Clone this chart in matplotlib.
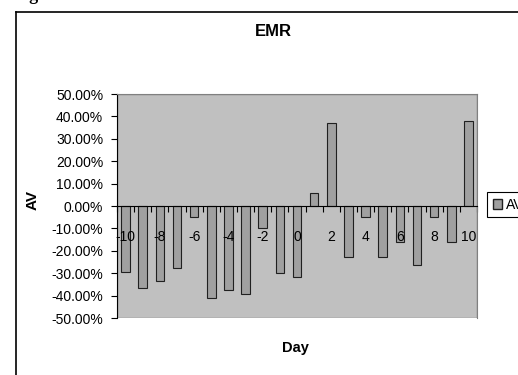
import matplotlib.pyplot as plt
import numpy as np
from matplotlib.lines import Line2D
from matplotlib.patches import Patch, Rectangle
from matplotlib.ticker import FuncFormatter

days = np.arange(-10, 11)
av = [-29.3, -36.5, -33.5, -27.5, -4.8, -41.2, -37.6, -39.4, -10.0, -30.0, -31.7,
      5.9, 36.9, -22.8, -4.8, -22.8, -16.2, -26.3, -4.8, -16.2, 38.1]
x_labels = [str(d) if d % 2 == 0 else '' for d in days]

plt.rcParams['font.family'] = ['Liberation Sans', 'DejaVu Sans']

fig = plt.figure(figsize=(5.18, 3.75), dpi=100)
ax = fig.add_axes([117/518, 1-318/375, 360/518, 224/375])
ax.set_facecolor('#c0c0c0')

ax.bar(days, av, width=0.5, color='#a0a0a0', edgecolor='#202020', linewidth=0.8)

ax.set_xlim(-10.5, 10.5)
ax.set_ylim(-50, 50)
ax.set_yticks(np.arange(-50, 51, 10))
ax.yaxis.set_major_formatter(FuncFormatter(lambda v, p: '%.2f%%' % v))
ax.tick_params(axis='y', direction='out', length=4, width=0.8, labelsize=10, pad=6)

# day labels at category centres, tick marks at category boundaries
ax.set_xticks(days)
ax.set_xticklabels(x_labels)
ax.set_xticks(np.arange(-10.5, 11, 1), minor=True)
ax.tick_params(axis='x', which='major', length=0, labelsize=10, pad=17)
ax.tick_params(axis='x', which='minor', direction='out', length=4, width=0.8)

ax.spines['bottom'].set_position(('data', 0))
ax.spines['bottom'].set_color('black')
ax.spines['left'].set_color('black')
for s in ['top', 'right']:
    ax.spines[s].set_color('#808080')
ax.add_patch(Rectangle((0, 0), 1, 1, transform=ax.transAxes, fill=False,
                       edgecolor='#808080', linewidth=1, zorder=0.9))

ax.set_ylabel('AV', fontsize=11, fontweight='bold')
ax.yaxis.set_label_coords((40-117)/360, 0.527)
ax.set_xlabel('Day', fontsize=10.5, fontweight='bold')
ax.xaxis.set_label_coords(0.497, (318-341)/224)

fig.text(273/518, 1-31/375, 'EMR', ha='center', va='center', fontsize=12, fontweight='bold')
fig.text(13/518, 1-0.5/375, 'Figure 22', ha='left', va='baseline', fontsize=13,
         fontweight='bold', family='Liberation Serif')

# chart frame
fig.add_artist(Line2D([16/518, 16/518], [-0.1, 1-12/375], transform=fig.transFigure,
                      color='black', linewidth=1.2))
fig.add_artist(Line2D([16/518, 1.1], [1-12/375, 1-12/375], transform=fig.transFigure,
                      color='black', linewidth=1.2))

leg = fig.legend(handles=[Patch(facecolor='#a0a0a0', edgecolor='#202020', label='AV')],
                 loc='upper left', bbox_to_anchor=(487/518, 1-192/375), fontsize=10,
                 fancybox=False, shadow=False, framealpha=1, handlelength=0.7,
                 handleheight=0.7, handletextpad=0.3, borderpad=0.4, borderaxespad=0)
leg.get_frame().set_edgecolor('black')
leg.get_frame().set_linewidth(0.8)

fig.savefig('out.png', dpi=100)
